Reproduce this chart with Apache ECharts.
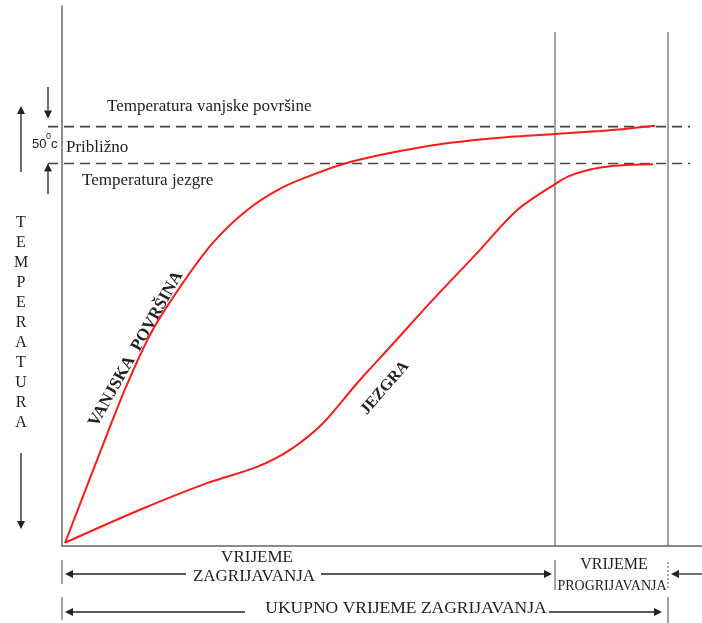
<!DOCTYPE html>
<html>
<head>
<meta charset="utf-8">
<script src="https://cdn.jsdelivr.net/npm/echarts@6/dist/echarts.min.js"></script>
<style>
  html, body { margin: 0; padding: 0; background: #fff; }
  #chart { width: 702px; height: 623px; }
</style>
</head>
<body>
<div id="chart"></div>
<script>
// podaci (vrijeme u proizvoljnim jedinicama, temperatura u °C)
const surfaceTime = [0.6, 7.8, 12.8, 17.8, 23.6, 30.2, 37, 44.2, 51, 57.6, 67.6, 77.6, 87.6, 98.6, 107.6, 114.2, 118.6];
const surfaceTemp = [4, 130, 215, 288, 350, 410, 454, 485, 504, 519, 534, 545, 552, 557, 561, 565, 568];
const coreTime = [0.8, 15.6, 29, 39, 45.6, 52.2, 59, 65.6, 74.2, 83, 91, 99, 101.4, 105.6, 109.6, 114.2, 118.2];
const coreTemp = [5, 49, 85, 107, 130, 166, 220, 269, 333, 396, 454, 491, 500, 509, 513.5, 515.5, 516];
// kraj zagrijavanja, kraj progrijavanja
const timeMarks = [0, 98.6, 121.2];
// temperatura vanjske povrsine, temperatura jezgre
const tempLevels = [567, 517];

const el = document.getElementById("chart");
const chart = echarts.init(el);

const ink = "#222";
const axisGray = "#666";
const red = "#ff1a1a";
const serif = "'Liberation Serif', 'Times New Roman', serif";

const zip = (xs, ys) => xs.map((x, i) => [x, ys[i]]);

chart.setOption({
  animation: false,
  grid: { left: 62, right: 0, top: 6, bottom: 77 },
  xAxis: {
    type: "value",
    min: 0,
    max: 128,
    axisLine: { show: true, lineStyle: { color: axisGray, width: 1.5 } },
    axisTick: { show: false },
    axisLabel: { show: false },
    splitLine: { show: false },
  },
  yAxis: {
    type: "value",
    min: 0,
    max: 730,
    axisLine: { show: true, lineStyle: { color: axisGray, width: 1.5 } },
    axisTick: { show: false },
    axisLabel: { show: false },
    splitLine: { show: false },
  },
  series: [
    {
      name: "Vanjska površina",
      type: "line",
      smooth: 0.3,
      symbol: "none",
      lineStyle: { color: red, width: 2 },
      data: zip(surfaceTime, surfaceTemp),
    },
    {
      name: "Jezgra",
      type: "line",
      smooth: 0.3,
      symbol: "none",
      lineStyle: { color: red, width: 2 },
      data: zip(coreTime, coreTemp),
    },
  ],
});

// pomocne funkcije za strelice
function arrow(x1, y1, x2, y2, color) {
  const ang = Math.atan2(y2 - y1, x2 - x1);
  const L = 8, W = 4;
  const bx = x2 - L * Math.cos(ang), by = y2 - L * Math.sin(ang);
  const px = -Math.sin(ang) * W, py = Math.cos(ang) * W;
  return [
    { type: "line", shape: { x1, y1, x2: bx, y2: by }, style: { stroke: color || ink, lineWidth: 1.3 } },
    {
      type: "polygon",
      shape: { points: [[x2, y2], [bx + px, by + py], [bx - px, by - py]] },
      style: { fill: color || ink },
    },
  ];
}
function seg(x1, y1, x2, y2, w, color, dash) {
  return {
    type: "line",
    shape: { x1, y1, x2, y2 },
    style: { stroke: color || ink, lineWidth: w || 1.3, lineDash: dash || null },
  };
}
function txt(text, x, y, size, opts) {
  opts = opts || {};
  return {
    type: "text",
    x, y,
    rotation: opts.rotation || 0,
    style: {
      text,
      font: (opts.weight || "normal") + " " + size + "px " + (opts.family || serif),
      fill: opts.fill || ink,
      textAlign: opts.align || "center",
      textVerticalAlign: "middle",
    },
  };
}

const xHeat = chart.convertToPixel({ xAxisIndex: 0 }, timeMarks[1]);
const xTotal = chart.convertToPixel({ xAxisIndex: 0 }, timeMarks[2]);
const x0 = chart.convertToPixel({ xAxisIndex: 0 }, timeMarks[0]);
const ySurf = chart.convertToPixel({ yAxisIndex: 0 }, tempLevels[0]);
const yCore = chart.convertToPixel({ yAxisIndex: 0 }, tempLevels[1]);
const yBase = chart.convertToPixel({ yAxisIndex: 0 }, 0);

let g = [];
// vertikalne granice
g.push(seg(xHeat, 32, xHeat, yBase, 1.2, axisGray));
g.push(seg(xTotal, 32, xTotal, yBase, 1.2, axisGray));
// isprekidane razine temperature
g.push(seg(48, ySurf, 690, ySurf, 1.6, "#444", [10, 6]));
g.push(seg(48, yCore, 690, yCore, 1.6, "#444", [10, 6]));

// lijeve strelice
g = g.concat(arrow(48, 87, 48, ySurf - 8));
g = g.concat(arrow(48, 194, 48, yCore));
g = g.concat(arrow(21, 172, 21, 106));
g = g.concat(arrow(21, 453, 21, 529));

// tekstovi uz razine
g.push(txt("Temperatura vanjske površine", 107, 107, 17, { align: "left" }));
g.push(txt("Približno", 66, 148, 17, { align: "left" }));
g.push(txt("Temperatura jezgre", 82, 181, 17, { align: "left" }));
g.push(txt("50", 32, 144, 13, { align: "left", family: "'Liberation Sans', Arial, sans-serif" }));
g.push(txt("0", 46, 137, 9, { align: "left", family: "'Liberation Sans', Arial, sans-serif" }));
g.push(txt("c", 51, 144, 13, { align: "left", family: "'Liberation Sans', Arial, sans-serif" }));

// TEMPERATURA okomito
"TEMPERATURA".split("").forEach((ch, i) => {
  g.push(txt(ch, 21, 223 + i * 20, 16));
});

// oznake krivulja
g.push(txt("VANJSKA  POVRŠINA", 136, 349, 17, { weight: "bold", rotation: (60.6 * Math.PI) / 180 }));
g.push(txt("JEZGRA", 385, 388, 16, { weight: "bold", rotation: (49 * Math.PI) / 180 }));

// donje kote
const r1 = 574, r2 = 612;
g.push(seg(x0, 560, x0, 584, 1.2, axisGray));
g.push(seg(xHeat, 560, xHeat, 590, 1.2, axisGray));
g.push(seg(xTotal, 562, xTotal, 588, 1, "#557", [2, 2]));
g = g.concat(arrow(186, r1, x0 + 3, r1));
g = g.concat(arrow(321, r1, xHeat - 3, r1));
g = g.concat(arrow(702, r1, xTotal + 3, r1));
g.push(txt("VRIJEME", 257, 558, 17));
g.push(txt("ZAGRIJAVANJA", 254, 577, 17));
g.push(txt("VRIJEME", 614, 565, 16));
g.push(txt("PROGRIJAVANJA", 612, 586, 14));

g.push(seg(x0, 597, x0, 620, 1.2, axisGray));
g.push(seg(xTotal, 597, xTotal, 623, 1.2, axisGray));
g = g.concat(arrow(245, r2, x0 + 3, r2));
g = g.concat(arrow(549, r2, xTotal - 6, r2));
g.push(txt("UKUPNO VRIJEME ZAGRIJAVANJA", 406, 608, 17.5));

chart.setOption({ graphic: { elements: g } });
</script>
</body>
</html>
